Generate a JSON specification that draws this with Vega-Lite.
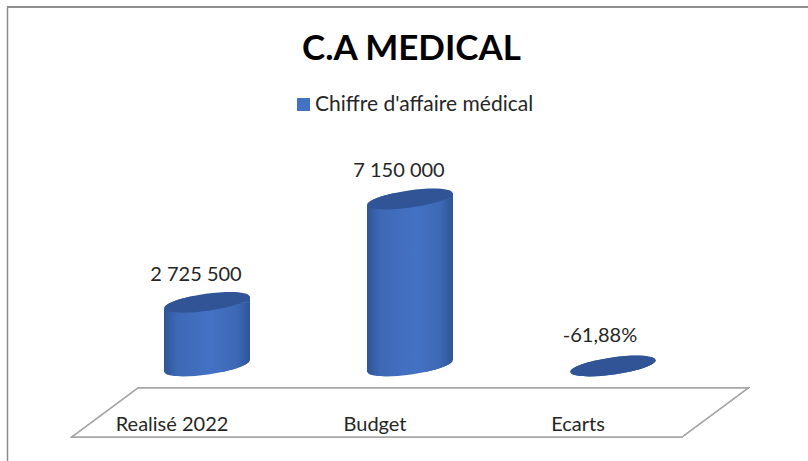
{"$schema":"https://vega.github.io/schema/vega-lite/v6.json","width":801,"height":454,"padding":{"left":7,"top":7,"right":0,"bottom":0},"autosize":{"type":"none"},"background":"white","title":{"text":"C.A MEDICAL","font":"Lato","fontSize":35,"fontWeight":"bold","color":"#000000","anchor":"middle","frame":"group","dx":4,"dy":36,"offset":-53,"baseline":"alphabetic"},"config":{"view":{"stroke":null},"font":"Lato"},"data":{"values":[{"poste":"Realisé 2022","valeur":2725500,"etiquette":"2 725 500"},{"poste":"Budget","valeur":7150000,"etiquette":"7 150 000"},{"poste":"Ecarts","valeur":-0.6188,"etiquette":"-61,88%"}]},"encoding":{"x":{"field":"poste","type":"nominal","sort":null,"title":null,"scale":{"range":[98.5,707.5],"paddingInner":0,"paddingOuter":0},"axis":{"orient":"bottom","domain":false,"ticks":false,"grid":false,"zindex":1,"labelAngle":0,"labelFont":"Lato","labelFontSize":20,"labelColor":"#262626","labelOffset":-35,"labelBaseline":"middle","labelPadding":0,"offset":-37}},"y":{"field":"valeur","type":"quantitative","title":null,"stack":null,"axis":{"orient":"left","domain":true,"domainColor":"#8C8C8C","domainWidth":1.5,"ticks":false,"labels":false,"grid":false},"scale":{"domain":[-4067365,15370300],"nice":false,"zero":false}}},"layer":[{"mark":{"type":"square","size":1},"encoding":{"color":{"datum":"Chiffre d'affaire médical","type":"nominal","scale":{"range":["#4472C4"]},"legend":{"title":null,"orient":"none","legendX":286,"legendY":87,"symbolType":"square","symbolSize":170,"symbolOpacity":1,"labelOffset":1,"labelFont":"Lato","labelFontSize":21,"labelColor":"#262626","labelLimit":300}}}},{"mark":{"type":"rule","color":"#8C8C8C","strokeWidth":1.5},"encoding":{"x":null,"y":{"datum":15370300}}},{"mark":{"type":"point","filled":true,"opacity":1,"size":459684,"fill":"#ffffff","stroke":"#A6A6A6","strokeWidth":1.5,"shape":"M-0.802,-0.0723L0.997,-0.0723L0.802,0.0723L-0.997,0.0723Z"},"encoding":{"x":{"datum":"Budget"},"y":{"datum":-1991000}}},{"mark":{"type":"bar","width":86,"fill":{"gradient":"linear","x1":0,"x2":1,"y1":0,"y2":0,"stops":[{"offset":0,"color":"#2F5597"},{"offset":0.15,"color":"#3D68B5"},{"offset":0.55,"color":"#4472C4"},{"offset":0.85,"color":"#3D68B5"},{"offset":1,"color":"#2F5597"}]}},"encoding":{"y2":{"datum":0}}},{"mark":{"type":"point","filled":true,"opacity":1,"size":7396,"fill":{"gradient":"linear","x1":0,"x2":1,"y1":0,"y2":0,"stops":[{"offset":0,"color":"#2F5597"},{"offset":0.15,"color":"#3D68B5"},{"offset":0.55,"color":"#4472C4"},{"offset":0.85,"color":"#3D68B5"},{"offset":1,"color":"#2F5597"}]},"shape":"M-1,-0.14L1,-0.14L1,0.01L-1,0.01Z"}},{"mark":{"type":"point","filled":true,"opacity":1,"size":7396,"fill":{"gradient":"linear","x1":0,"x2":1,"y1":0,"y2":0,"stops":[{"offset":0,"color":"#2F5597"},{"offset":0.15,"color":"#3D68B5"},{"offset":0.55,"color":"#4472C4"},{"offset":0.85,"color":"#3D68B5"},{"offset":1,"color":"#2F5597"}]},"shape":"M-1,-0.01L1,-0.01L1,0.14L-1,0.14Z"},"encoding":{"y":{"datum":0}}},{"mark":{"type":"point","filled":true,"opacity":1,"size":7396,"fill":"#ffffff","shape":"M1.05,-0.13917L0.99027,-0.13917A1,0.2,-8,0,1,-0.99027,0.13917L-1.05,0.13917L-1.05,0.35L1.05,0.35Z"},"encoding":{"y":{"datum":0}}},{"mark":{"type":"point","filled":true,"opacity":1,"size":7396,"fill":{"gradient":"linear","x1":0,"x2":1,"y1":0,"y2":0,"stops":[{"offset":0,"color":"#2F5597"},{"offset":0.15,"color":"#3D68B5"},{"offset":0.55,"color":"#4472C4"},{"offset":0.85,"color":"#3D68B5"},{"offset":1,"color":"#2F5597"}]},"shape":"M-0.99027,0.13917A1,0.2,-8,0,1,0.99027,-0.13917A1,0.2,-8,0,1,-0.99027,0.13917Z"},"encoding":{"y":{"datum":0}}},{"mark":{"type":"point","filled":true,"opacity":1,"size":7396,"fill":"#ffffff","shape":"M-1.05,0.13917L-0.99027,0.13917A1,0.2,-8,0,1,0.99027,-0.13917L1.05,-0.13917L1.05,-0.35L-1.05,-0.35Z"}},{"mark":{"type":"point","filled":true,"opacity":1,"size":7396,"fill":"#305496","shape":"M-0.99027,0.13917A1,0.2,-8,0,1,0.99027,-0.13917A1,0.2,-8,0,1,-0.99027,0.13917Z"}},{"transform":[{"filter":"datum.poste==='Realisé 2022'"}],"mark":{"type":"text","font":"Lato","fontSize":20,"color":"#262626","dx":-11,"dy":-27},"encoding":{"text":{"field":"etiquette"}}},{"transform":[{"filter":"datum.poste==='Budget'"}],"mark":{"type":"text","font":"Lato","fontSize":20,"color":"#262626","dx":-11,"dy":-28},"encoding":{"text":{"field":"etiquette"}}},{"transform":[{"filter":"datum.poste==='Ecarts'"}],"mark":{"type":"text","font":"Lato","fontSize":20,"color":"#262626","dx":-13,"dy":-30},"encoding":{"text":{"field":"etiquette"}}}]}
